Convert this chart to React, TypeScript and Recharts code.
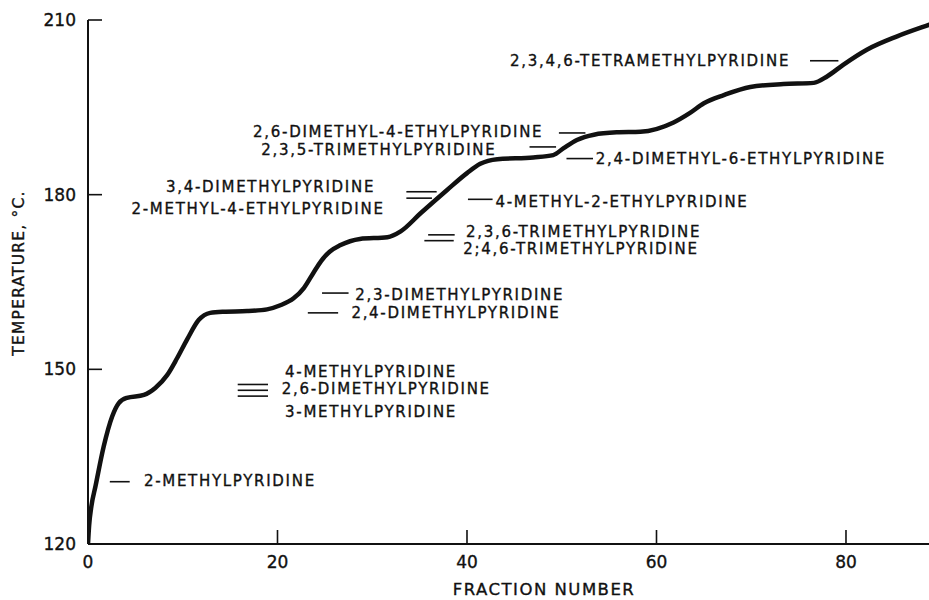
import React from "react";
import {
  ComposedChart,
  Line,
  XAxis,
  YAxis,
  ReferenceLine,
  ReferenceDot,
} from "recharts";

const fractionTicks = [0, 20, 40, 60, 80];
const tempTicks = [120, 150, 180, 210];

// head temperature of each fraction
const distillation = [
  { fraction: 0, temp: 120 },
  { fraction: 0.12, temp: 123.2 },
  { fraction: 0.35, temp: 126.4 },
  { fraction: 0.8, temp: 130.0 },
  { fraction: 1.65, temp: 136.7 },
  { fraction: 2.55, temp: 141.9 },
  { fraction: 3.25, temp: 144.2 },
  { fraction: 4.1, temp: 145.1 },
  { fraction: 5.9, temp: 145.6 },
  { fraction: 7.1, temp: 146.8 },
  { fraction: 8.35, temp: 149.0 },
  { fraction: 9.4, temp: 151.9 },
  { fraction: 10.45, temp: 155.1 },
  { fraction: 11.7, temp: 158.5 },
  { fraction: 12.9, temp: 159.7 },
  { fraction: 14.3, temp: 159.9 },
  { fraction: 16.8, temp: 160.0 },
  { fraction: 18.9, temp: 160.3 },
  { fraction: 20.3, temp: 161.0 },
  { fraction: 21.7, temp: 162.2 },
  { fraction: 22.8, temp: 164.0 },
  { fraction: 23.8, temp: 166.6 },
  { fraction: 24.6, temp: 168.6 },
  { fraction: 25.5, temp: 170.2 },
  { fraction: 26.6, temp: 171.3 },
  { fraction: 28.7, temp: 172.4 },
  { fraction: 31.6, temp: 172.7 },
  { fraction: 33.0, temp: 173.7 },
  { fraction: 35.1, temp: 176.8 },
  { fraction: 37.9, temp: 180.8 },
  { fraction: 40.0, temp: 183.7 },
  { fraction: 41.4, temp: 185.3 },
  { fraction: 43.2, temp: 186.1 },
  { fraction: 47.0, temp: 186.4 },
  { fraction: 49.1, temp: 186.8 },
  { fraction: 50.2, temp: 188.0 },
  { fraction: 51.6, temp: 189.4 },
  { fraction: 53.4, temp: 190.3 },
  { fraction: 55.8, temp: 190.7 },
  { fraction: 58.3, temp: 190.8 },
  { fraction: 61.8, temp: 192.4 },
  { fraction: 63.5, temp: 194.0 },
  { fraction: 65.0, temp: 195.7 },
  { fraction: 67.1, temp: 197.1 },
  { fraction: 69.9, temp: 198.5 },
  { fraction: 73.4, temp: 199.0 },
  { fraction: 76.6, temp: 199.2 },
  { fraction: 78.0, temp: 200.3 },
  { fraction: 79.7, temp: 202.3 },
  { fraction: 82.2, temp: 204.9 },
  { fraction: 85.4, temp: 207.2 },
  { fraction: 88.8, temp: 209.2 },
  { fraction: 89.5, temp: 209.6 },
];

// boiling points of the pure bases, shown as short bars
const boilingPoints = [
  { from: 2.3, to: 4.4, temp: 130.7 },
  { from: 15.8, to: 19.0, temp: 147.4 },
  { from: 15.8, to: 19.0, temp: 146.4 },
  { from: 15.8, to: 19.0, temp: 145.4 },
  { from: 24.7, to: 27.5, temp: 163.1 },
  { from: 23.2, to: 26.4, temp: 159.7 },
  { from: 33.6, to: 36.8, temp: 180.5 },
  { from: 33.6, to: 36.3, temp: 179.4 },
  { from: 35.9, to: 38.7, temp: 173.1 },
  { from: 35.5, to: 38.6, temp: 172.1 },
  { from: 40.1, to: 42.7, temp: 179.2 },
  { from: 49.7, to: 52.5, temp: 190.6 },
  { from: 46.6, to: 49.4, temp: 188.2 },
  { from: 50.5, to: 53.3, temp: 186.2 },
  { from: 76.2, to: 79.2, temp: 203.0 },
];

const compoundNames = [
  "2-METHYLPYRIDINE",
  "4-METHYLPYRIDINE",
  "2,6-DIMETHYLPYRIDINE",
  "3-METHYLPYRIDINE",
  "2,3-DIMETHYLPYRIDINE",
  "2,4-DIMETHYLPYRIDINE",
  "3,4-DIMETHYLPYRIDINE",
  "2-METHYL-4-ETHYLPYRIDINE",
  "2,3,6-TRIMETHYLPYRIDINE",
  "2;4,6-TRIMETHYLPYRIDINE",
  "4-METHYL-2-ETHYLPYRIDINE",
  "2,6-DIMETHYL-4-ETHYLPYRIDINE",
  "2,3,5-TRIMETHYLPYRIDINE",
  "2,4-DIMETHYL-6-ETHYLPYRIDINE",
  "2,3,4,6-TETRAMETHYLPYRIDINE",
];

// where each name sits, in axis units, and which side it hangs from
const nameSpots: { fraction: number; temp: number; anchor: "start" | "end" }[] = [
  { fraction: 5.9, temp: 130.8, anchor: "start" },
  { fraction: 20.8, temp: 149.6, anchor: "start" },
  { fraction: 20.45, temp: 146.7, anchor: "start" },
  { fraction: 20.8, temp: 142.7, anchor: "start" },
  { fraction: 28.2, temp: 162.8, anchor: "start" },
  { fraction: 27.8, temp: 159.6, anchor: "start" },
  { fraction: 30.3, temp: 181.3, anchor: "end" },
  { fraction: 31.3, temp: 177.5, anchor: "end" },
  { fraction: 39.9, temp: 173.6, anchor: "start" },
  { fraction: 39.6, temp: 170.7, anchor: "start" },
  { fraction: 43.0, temp: 178.8, anchor: "start" },
  { fraction: 48.05, temp: 190.7, anchor: "end" },
  { fraction: 43.1, temp: 187.7, anchor: "end" },
  { fraction: 53.6, temp: 186.2, anchor: "start" },
  { fraction: 74.1, temp: 203.0, anchor: "end" },
];

const FONT = "'DejaVu Sans', Arial, sans-serif";
const INK = "#111";
const X_DOMAIN: [number, number] = [0, 89.5];
const Y_DOMAIN: [number, number] = [120, 210];

const axisLine = { stroke: INK, strokeWidth: 2 };
const tickLine = { stroke: INK, strokeWidth: 1.6 };
const tickText = {
  fill: INK,
  fontSize: 17,
  fontFamily: FONT,
  stroke: INK,
  strokeWidth: 0.35,
};

const nameShape = (text: string, anchor: "start" | "end") => (p: any) =>
  (
    <text
      x={p.cx}
      y={p.cy}
      textAnchor={anchor}
      dominantBaseline="central"
      fontFamily={FONT}
      fontSize={15}
      letterSpacing={1.7}
      fill={INK}
      stroke={INK}
      strokeWidth={0.35}
    >
      {text}
    </text>
  );

export default function App() {
  return (
    <div
      style={{
        position: "absolute",
        left: 0,
        top: 0,
        width: 929,
        height: 600,
        overflow: "hidden",
        background: "#fff",
      }}
    >
      <ComposedChart
        width={950}
        height={600}
        data={distillation}
        margin={{ top: 20, right: 14, bottom: 0, left: 0 }}
      >
        <XAxis
          dataKey="fraction"
          type="number"
          domain={X_DOMAIN}
          ticks={fractionTicks}
          allowDataOverflow
          height={56}
          tickSize={-14}
          tickMargin={26}
          axisLine={axisLine}
          tickLine={tickLine}
          tick={tickText}
          label={{
            value: "FRACTION NUMBER",
            position: "insideBottom",
            offset: 5,
            dx: 32,
            fill: INK,
            fontSize: 16.5,
            fontFamily: FONT,
            stroke: INK,
            strokeWidth: 0.35,
            style: { letterSpacing: 1.5 },
          }}
        />
        <XAxis
          xAxisId="top"
          orientation="top"
          type="number"
          domain={X_DOMAIN}
          ticks={fractionTicks}
          allowDataOverflow
          height={0}
          tickSize={-14}
          axisLine={axisLine}
          tickLine={tickLine}
          tick={false}
        />
        <YAxis
          type="number"
          domain={Y_DOMAIN}
          ticks={tempTicks}
          allowDataOverflow
          width={88}
          tickSize={-14}
          tickMargin={26}
          axisLine={axisLine}
          tickLine={tickLine}
          tick={tickText}
          label={{
            value: "TEMPERATURE, °C.",
            angle: -90,
            position: "insideLeft",
            offset: 18,
            dy: -9,
            fill: INK,
            fontSize: 15.5,
            fontFamily: FONT,
            stroke: INK,
            strokeWidth: 0.35,
            style: { textAnchor: "middle", letterSpacing: 1.2 },
          }}
        />
        <YAxis
          yAxisId="right"
          orientation="right"
          type="number"
          domain={Y_DOMAIN}
          ticks={tempTicks}
          allowDataOverflow
          width={0}
          tickSize={-14}
          axisLine={axisLine}
          tickLine={tickLine}
          tick={false}
        />

        {boilingPoints.map((b, i) => (
          <ReferenceLine
            key={`bp-${i}`}
            segment={[
              { x: b.from, y: b.temp },
              { x: b.to, y: b.temp },
            ]}
            stroke={INK}
            strokeWidth={1.6}
          />
        ))}

        {nameSpots.map((s, i) => (
          <ReferenceDot
            key={`name-${i}`}
            x={s.fraction}
            y={s.temp}
            r={0}
            shape={nameShape(compoundNames[i], s.anchor)}
          />
        ))}

        <Line
          type="monotone"
          dataKey="temp"
          stroke={INK}
          strokeWidth={4.5}
          dot={false}
          activeDot={false}
          isAnimationActive={false}
        />
      </ComposedChart>
    </div>
  );
}
